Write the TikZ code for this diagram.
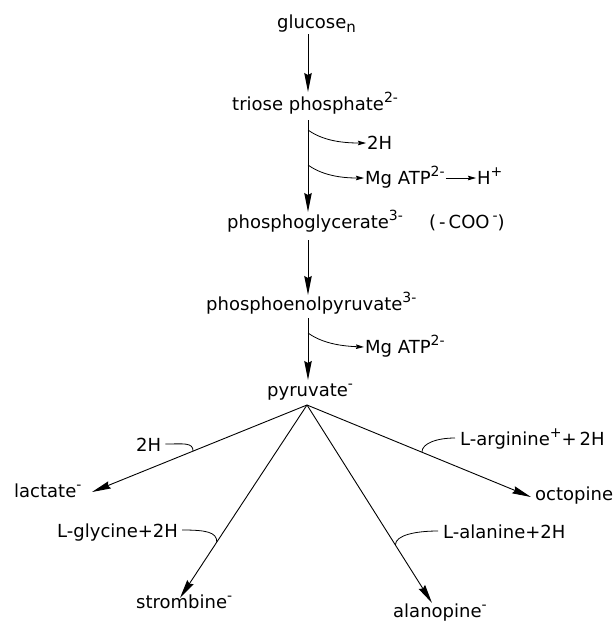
\documentclass[tikz,border=0pt]{standalone}
\usepackage{fontspec}
\setmainfont{DejaVu Sans}
\usetikzlibrary{arrows.meta,calc}
\newcommand{\sps}[1]{\raisebox{0.42em}{\fontsize{14}{14}\selectfont #1}}
\newcommand{\sbs}[1]{\raisebox{-0.25em}{\fontsize{15}{15}\selectfont #1}}
\begin{document}
\begin{tikzpicture}[x=1pt,y=-1pt,
  lbl/.style={anchor=base west,inner sep=0pt,font=\fontsize{18}{22}\selectfont},
  main/.style={-{Stealth[length=19pt,width=7.5pt,inset=2pt]},line width=0.9pt},
  side/.style={-{Stealth[length=8pt,width=4.5pt,inset=1pt]},line width=0.8pt},
  hook/.style={line width=0.8pt}]
\useasboundingbox (0,0) rectangle (615,622);
% labels
\node[lbl] (glc) at (277,28) {glucose\sbs{n}};
\node[lbl] (tri) at (232,110) {triose phosphate\sps{2-}};
\node[lbl] (h2a) at (367,149) {2H};
\node[lbl] (atp1) at (365,184) {Mg ATP\sps{2-}};
\node[lbl] (hp) at (477,184) {H\sps{+}};
\node[lbl] (pg) at (227,228) {phosphoglycerate\sps{3-}};
\node[lbl] (coo) at (429,228) {(\,-\,COO\,\sps{-})};
\node[lbl] (pep) at (206,310) {phosphoenolpyruvate\sps{3-}};
\node[lbl] (atp2) at (365,353) {Mg ATP\sps{2-}};
\node[lbl] (pyr) at (267,396) {pyruvate\sps{-}};
\node[lbl] (lac) at (14,497) {lactate\sps{-}};
\node[lbl] (h2b) at (136,451) {2H};
\node[lbl] (gly) at (57,537) {L-glycine+2H};
\node[lbl] (str) at (136,608) {strombine\sps{-}};
\node[lbl] (arg) at (460,445) {L-arginine\sps{+}+\,2H};
\node[lbl] (oct) at (535,500) {octopine};
\node[lbl] (ala) at (443,538) {L-alanine+2H};
\node[lbl] (alo) at (393,617) {alanopine\sps{-}};
% axis coordinates
\coordinate (g1) at (308,34);  \coordinate (g2) at (308,92);
\coordinate (t1) at (308,120); \coordinate (t2) at (308,212);
\coordinate (p1) at (308,240); \coordinate (p2) at (308,295);
\coordinate (e1) at (308,318); \coordinate (e2) at (308,380);
\coordinate (b1) at (308,130); \coordinate (b2) at (308,165);
\coordinate (b3) at (308,333);
\coordinate (apex) at (307,405);
\coordinate (tl) at (92,492);  \coordinate (ts) at (180,598);
\coordinate (ta) at (432,603); \coordinate (to) at (531,497);
% main chain
\draw[main] (g1) -- (g2);
\draw[main] (t1) -- (t2);
\draw[main] (p1) -- (p2);
\draw[main] (e1) -- (e2);
% side branches
\draw[side] (b1) .. controls (322,140) and (340,143) .. ([xshift=-1pt,yshift=6pt]h2a.base west);
\draw[side] (b2) .. controls (322,175) and (340,178) .. ([xshift=-1pt,yshift=6pt]atp1.base west);
\draw[side] ([xshift=1pt,yshift=6pt]atp1.base east) -- ([xshift=-1pt,yshift=6pt]hp.base west);
\draw[side] (b3) .. controls (322,343) and (340,346) .. ([xshift=-1pt,yshift=6pt]atp2.base west);
% fan
\draw[main] (apex) -- (tl);
\draw[main] (apex) -- (ts);
\draw[main] (apex) -- (ta);
\draw[main] (apex) -- (to);
% hooks
\draw[hook] ([xshift=4pt,yshift=7pt]h2b.base east) .. controls +(18,0) and +(0,-9) .. ($(apex)!0.53!(tl)$);
\draw[hook] ([xshift=4pt,yshift=7pt]gly.base east) .. controls +(24,0) and +(0,-10) .. ($(apex)!0.71!(ts)$);
\draw[hook] ([xshift=-5pt,yshift=7pt]arg.base west) .. controls +(-18,0) and +(0,-9) .. ($(apex)!0.513!(to)$);
\draw[hook] ([xshift=-5pt,yshift=7pt]ala.base west) .. controls +(-22,0) and +(0,-10) .. ($(apex)!0.707!(ta)$);
\end{tikzpicture}
\end{document}
